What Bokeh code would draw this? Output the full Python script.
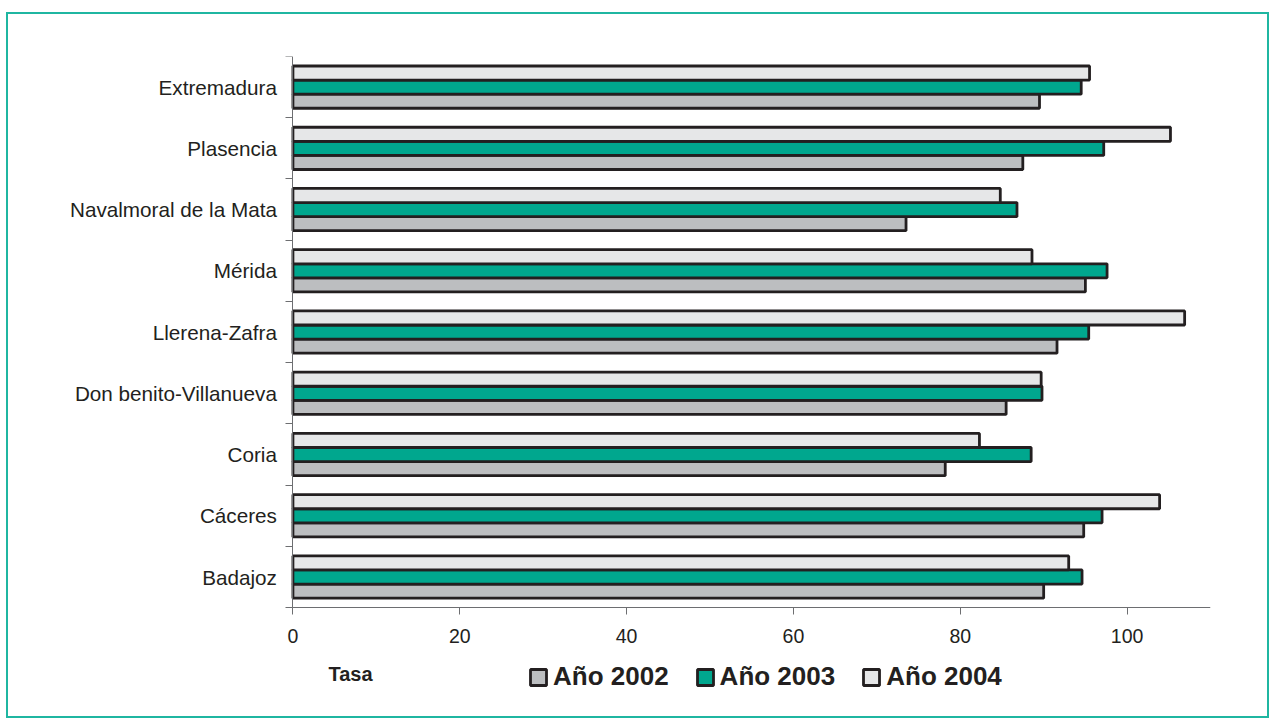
from bokeh.plotting import figure
from bokeh.models import Range1d, FixedTicker, Legend, LegendItem, Label, ColumnDataSource
from bokeh.embed import file_html
from bokeh.resources import INLINE

# Health areas, listed bottom to top
comarcas = ["Badajoz", "Cáceres", "Coria", "Don benito-Villanueva", "Llerena-Zafra",
            "Mérida", "Navalmoral de la Mata", "Plasencia", "Extremadura"]
tasa_2002 = [90.0, 94.8, 78.2, 85.5, 91.6, 95.0, 73.5, 87.5, 89.5]
tasa_2003 = [94.6, 97.0, 88.5, 89.8, 95.4, 97.6, 86.8, 97.2, 94.5]
tasa_2004 = [93.0, 103.9, 82.3, 89.7, 106.9, 88.6, 84.8, 105.2, 95.5]
series_labels = ["Año 2002", "Año 2003", "Año 2004"]
x_ticks = [0, 20, 40, 60, 80, 100]

FONT = "Liberation Sans"
INK = "#231f20"
AXIS = "#6d6e71"

n = len(comarcas)
x_max = 110
# room left of the bars for the area names, and under them for the
# value axis, its title and the legend
x_floor = -32.9
y_floor = -1.68

p = figure(width=1263, height=706,
           x_range=Range1d(x_floor, x_max), y_range=Range1d(y_floor, n),
           output_backend="svg", toolbar_location=None,
           min_border_left=10, min_border_right=61,
           min_border_top=42, min_border_bottom=10)
p.styles = {"margin-left": "6px", "margin-top": "12px",
            "border": "2px solid #1fb6a1"}
p.background_fill_color = "white"
p.border_fill_color = "white"
p.outline_line_color = None
p.grid.visible = False

centers = [i + 0.5 for i in range(n)]
bar_h = 0.23
colors = ["#bcbec0", "#00a78e", "#e6e7e8"]
offsets = [-bar_h, 0.0, bar_h]

renderers = []
for vals, off, col in zip([tasa_2002, tasa_2003, tasa_2004], offsets, colors):
    src = ColumnDataSource(dict(y=[c + off for c in centers], right=vals))
    r = p.hbar(y="y", right="right", left=0, height=bar_h, source=src,
               fill_color=col, line_color=INK, line_width=2.8)
    renderers.append(r)

# category axis on x = 0: names at band centres, marks at band boundaries
p.yaxis.fixed_location = 0
p.yaxis.bounds = (0, n)
p.yaxis.ticker = FixedTicker(ticks=centers, minor_ticks=list(range(n + 1)))
p.yaxis.major_label_overrides = {c: nm for c, nm in zip(centers, comarcas)}
p.yaxis.major_tick_line_color = None
p.yaxis.major_tick_out = 0
p.yaxis.major_tick_in = 0
p.yaxis.minor_tick_out = 7
p.yaxis.minor_tick_in = 0
p.yaxis.minor_tick_line_color = AXIS
p.yaxis.axis_line_color = AXIS
p.yaxis.major_label_standoff = 9
p.yaxis.major_label_text_font = FONT
p.yaxis.major_label_text_font_size = "20.7px"
p.yaxis.major_label_text_color = INK

# value axis on y = 0
p.xaxis.fixed_location = 0
p.xaxis.bounds = (0, x_max)
p.xaxis.ticker = FixedTicker(ticks=x_ticks, minor_ticks=[])
p.xaxis.major_tick_out = 7
p.xaxis.major_tick_in = 0
p.xaxis.major_tick_line_color = AXIS
p.xaxis.minor_tick_line_color = None
p.xaxis.axis_line_color = AXIS
p.xaxis.major_label_standoff = 14
p.xaxis.major_label_text_font = FONT
p.xaxis.major_label_text_font_size = "19.5px"
p.xaxis.major_label_text_color = INK

p.add_layout(Label(x=4.26, y=-1.08, text="Tasa", text_font=FONT,
                   text_font_style="bold", text_font_size="20px",
                   text_color=INK, text_baseline="alphabetic"))

legend = Legend(items=[LegendItem(label=l, renderers=[r]) for l, r in zip(series_labels, renderers)],
                orientation="horizontal", location=(510, 18),
                glyph_width=20, glyph_height=20, label_standoff=5, spacing=26,
                padding=0, margin=0, border_line_color=None,
                background_fill_alpha=0,
                label_text_font=FONT, label_text_font_style="bold",
                label_text_font_size="26px", label_text_color=INK)
p.add_layout(legend, "center")

open("out.html", "w").write(file_html(p, INLINE))
